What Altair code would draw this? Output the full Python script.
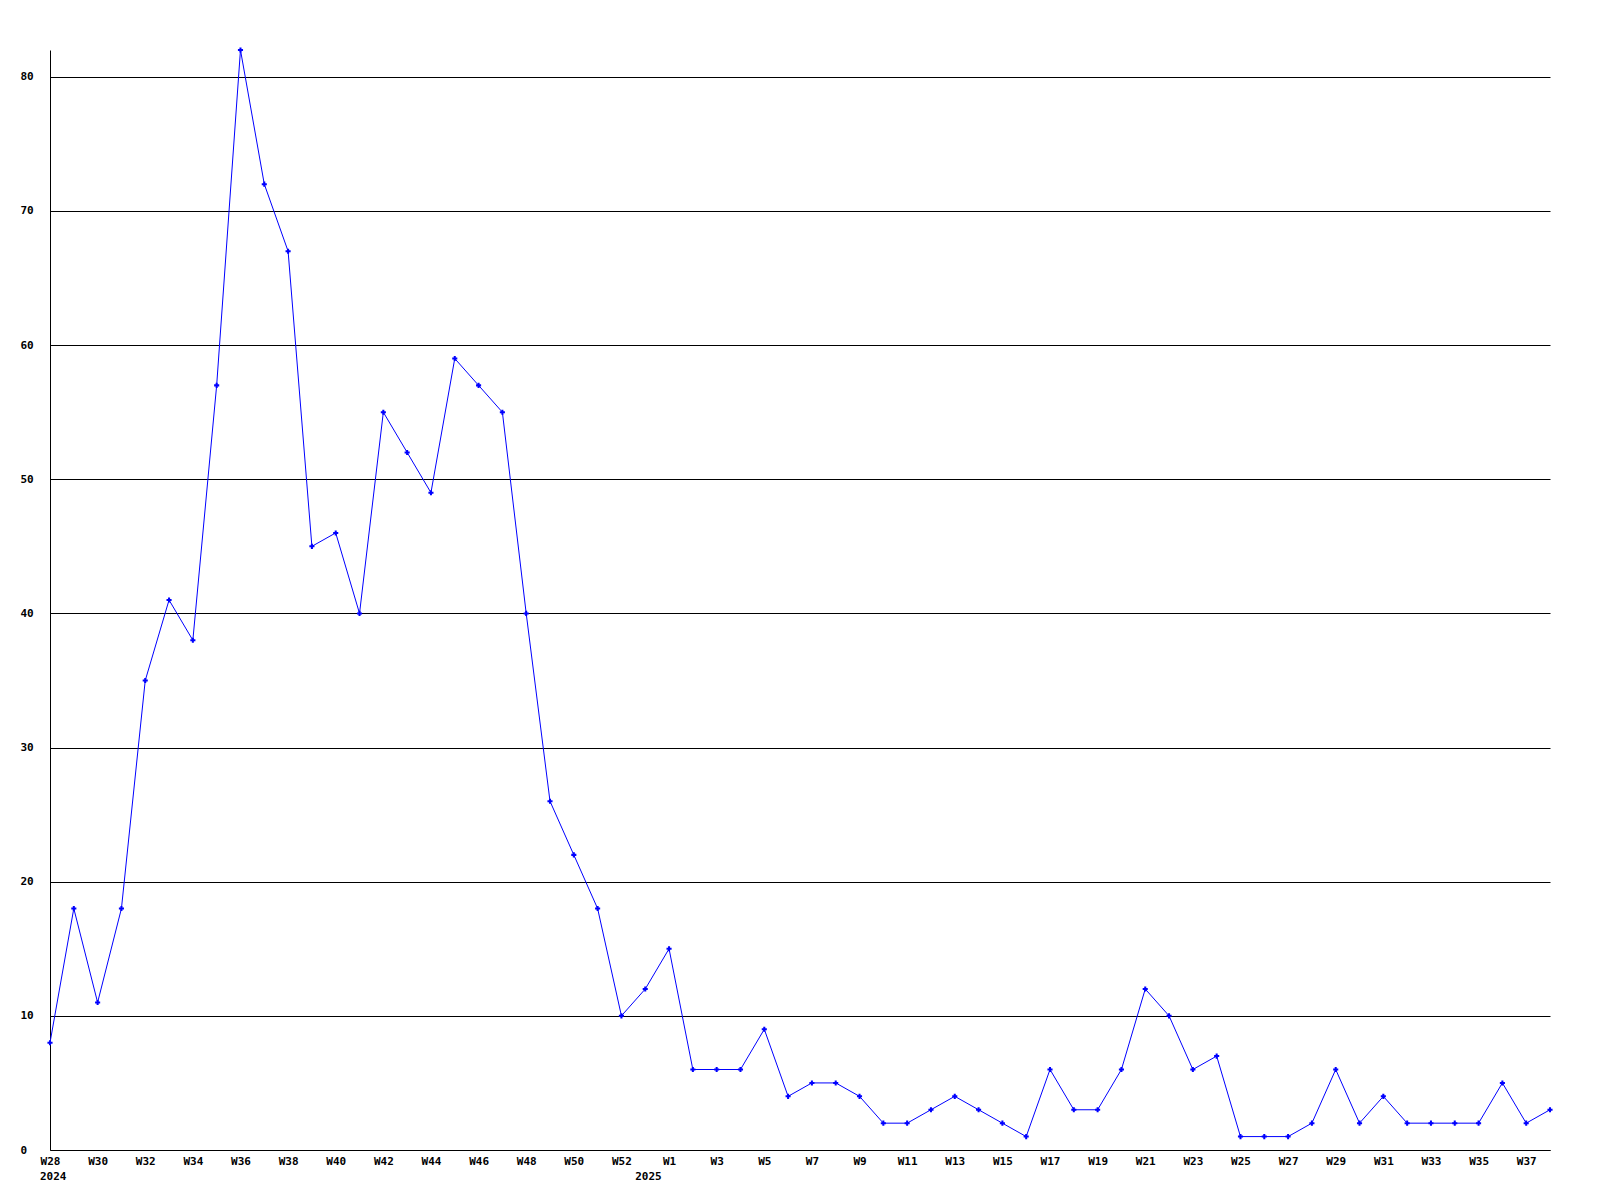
import altair as alt
import pandas as pd

weeks_2024 = [f"W{w}" for w in range(28, 54)]
weeks_2025 = [f"W{w}" for w in range(1, 39)]
values_2024 = [8, 18, 11, 18, 35, 41, 38, 57, 82, 72, 67, 45, 46, 40, 55, 52, 49,
               59, 57, 55, 40, 26, 22, 18, 10, 12]
values_2025 = [15, 6, 6, 6, 9, 4, 5, 5, 4, 2, 2, 3, 4, 3, 2, 1, 6, 3, 3, 6, 12, 10,
               6, 7, 1, 1, 1, 2, 6, 2, 4, 2, 2, 2, 2, 5, 2, 3]
year_labels = ["2024", "2025"]
year_label_keys = ["2024-W28", "2024-W53"]
y_ticks = [0, 10, 20, 30, 40, 50, 60, 70, 80]

keys = [f"2024-{w}" for w in weeks_2024] + [f"2025-{w}" for w in weeks_2025]
vals = values_2024 + values_2025
df = pd.DataFrame({"key": keys, "value": vals})

# labelled weeks: every other point
label_keys = [k for i, k in enumerate(keys) if i % 2 == 0]

years_df = pd.DataFrame({"key": year_label_keys, "year": year_labels})

FONT = "DejaVu Sans Mono"
W, H = 1500, 1100

x_enc = alt.X(
    "key:N",
    sort=keys,
    scale=alt.Scale(type="point", padding=0, domain=keys),
    axis=alt.Axis(
        title=None,
        values=label_keys,
        labelExpr="split(datum.value, '-')[1]",
        labelAngle=0,
        labelFont=FONT,
        labelFontWeight="bold",
        labelFontSize=11,
        labelColor="black",
        labelBaseline="top",
        labelPadding=5,
        ticks=False,
        domainColor="black",
        domainWidth=1,
        grid=False,
        labelOverlap=False,
    ),
)

y_enc = alt.Y(
    "value:Q",
    scale=alt.Scale(domain=[0, 82], nice=False, zero=True),
    axis=alt.Axis(
        title=None,
        values=y_ticks,
        labelFont=FONT,
        labelFontWeight="bold",
        labelFontSize=11,
        labelColor="black",
        labelAlign="left",
        labelBaseline="middle",
        labelPadding=30,
        ticks=False,
        tickSize=0,
        domainColor="black",
        domainWidth=1,
        grid=True,
        gridColor="black",
        gridWidth=1,
        gridOpacity=1,
    ),
)

line = alt.Chart(df).mark_line(color="#0000ff", strokeWidth=1).encode(x=x_enc, y=y_enc)
points = alt.Chart(df).mark_point(
    shape="cross", filled=True, size=26, color="#0000ff", opacity=1
).encode(x=alt.X("key:N", sort=keys), y="value:Q")

years = alt.Chart(years_df).mark_text(
    font=FONT, fontWeight="bold", fontSize=11, color="black",
    align="left", baseline="middle", dx=-10
).encode(x=alt.X("key:N", sort=keys), y=alt.value(H + 27), text="year:N")

chart = (
    alt.layer(line, points, years)
    .properties(
        width=W,
        height=H,
        autosize=alt.AutoSizeParams(type="none"),
        padding={"left": 42, "top": 42, "right": 30, "bottom": 40},
        background="white",
    )
    .configure_view(stroke=None)
)

chart.save("out.html", embed_options={"renderer": "svg", "actions": False})
